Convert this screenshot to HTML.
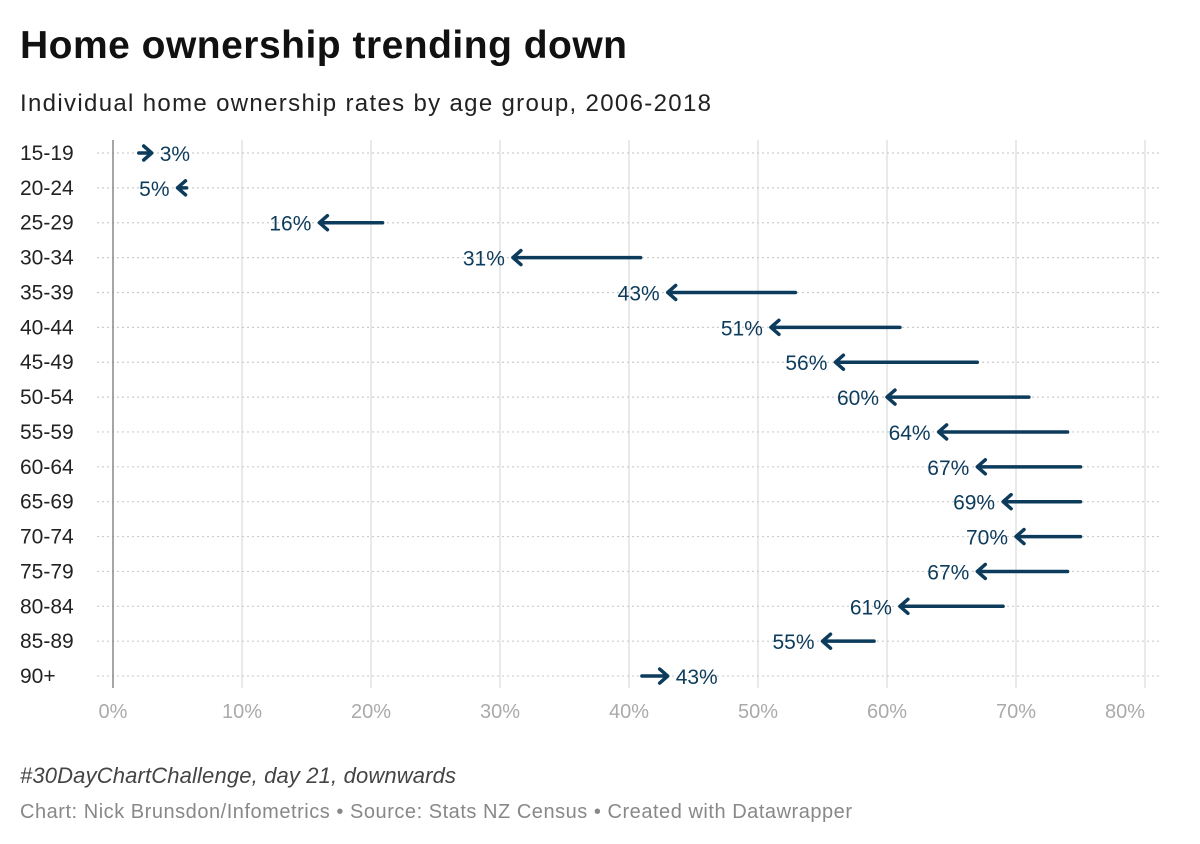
<!DOCTYPE html>
<html><head><meta charset="utf-8"><style>
body{margin:0;background:#fff;font-family:"Liberation Sans",sans-serif;}
svg{display:block}
</style></head><body>
<svg id="chart" width="1200" height="844" xmlns="http://www.w3.org/2000/svg">
<text x="20" y="58" font-size="39" font-weight="bold" fill="#111" textLength="607">Home ownership trending down</text>
<text x="20" y="111" font-size="24" fill="#222" textLength="691">Individual home ownership rates by age group, 2006-2018</text>
<g id="plot"></g>
<text x="20" y="783" font-size="22" font-style="italic" fill="#444" textLength="436">#30DayChartChallenge, day 21, downwards</text>
<text x="20" y="818" font-size="20" fill="#888" textLength="832">Chart: Nick Brunsdon/Infometrics • Source: Stats NZ Census • Created with Datawrapper</text>
</svg>
<script>
const categories=["15-19","20-24","25-29","30-34","35-39","40-44","45-49","50-54","55-59","60-64","65-69","70-74","75-79","80-84","85-89","90+"];
const values2006=[2,5.7,20.9,40.9,52.9,61,67,71,74,75,75,75,74,69,59,41];
const values2018=[3,5,16,31,43,51,56,60,64,67,69,70,67,61,55,43];
const ticks=[0,10,20,30,40,50,60,70,80];
const NS="http://www.w3.org/2000/svg";
const g=document.getElementById('plot');
const x=v=>113+v*12.9;
const y=i=>153+i*34.87;
const C="#0d3b5c";
function mk(t,a){const e=document.createElementNS(NS,t);for(const k in a)e.setAttribute(k,a[k]);g.appendChild(e);return e;}
ticks.forEach(t=>{
  if(t>0){const l=mk('line',{x1:x(t),x2:x(t),y1:140,y2:688,stroke:'#ddd','stroke-width':1.3});
  
  }
  const tx=mk('text',{x:t===80?x(t)-20:x(t),y:718,'font-size':20,fill:'#aaa','text-anchor':'middle'});
  tx.textContent=t+'%';
  
  
});
categories.forEach((c,i)=>{
  const l=mk('line',{x1:97,x2:1160,y1:y(i),y2:y(i),stroke:'#ccc','stroke-width':1.2,'stroke-dasharray':'2 3'});
  
  
  const t=mk('text',{x:20,y:y(i)+7,'font-size':21,fill:'#222'});
  t.textContent=c;
  
  
});
const ax=mk('line',{x1:113,x2:113,y1:140,y2:688,stroke:'#888','stroke-width':1.5});


categories.forEach((c,i)=>{
  const x0=x(values2006[i]),x1=x(values2018[i]),yy=y(i);
  const dir=x1>x0?1:-1;
  const grp=document.createElementNS(NS,'g');g.appendChild(grp);
  
  
  const ln=document.createElementNS(NS,'path');
  ln.setAttribute('d',`M${x0},${yy} L${x1-dir*2},${yy} M${x1-dir*8},${yy-7} L${x1},${yy} L${x1-dir*8},${yy+7}`);
  ln.setAttribute('stroke',C);ln.setAttribute('stroke-width',3.5);ln.setAttribute('fill','none');
  ln.setAttribute('stroke-linecap','round');ln.setAttribute('stroke-linejoin','round');
  grp.appendChild(ln);
  const t=document.createElementNS(NS,'text');
  t.setAttribute('x',x1+dir*8);t.setAttribute('y',yy+8);t.setAttribute('font-size',21);t.setAttribute('fill',C);
  t.setAttribute('text-anchor',dir>0?'start':'end');
  t.textContent=values2018[i]+'%';
  
  
  grp.appendChild(t);
});
</script>
</body></html>
